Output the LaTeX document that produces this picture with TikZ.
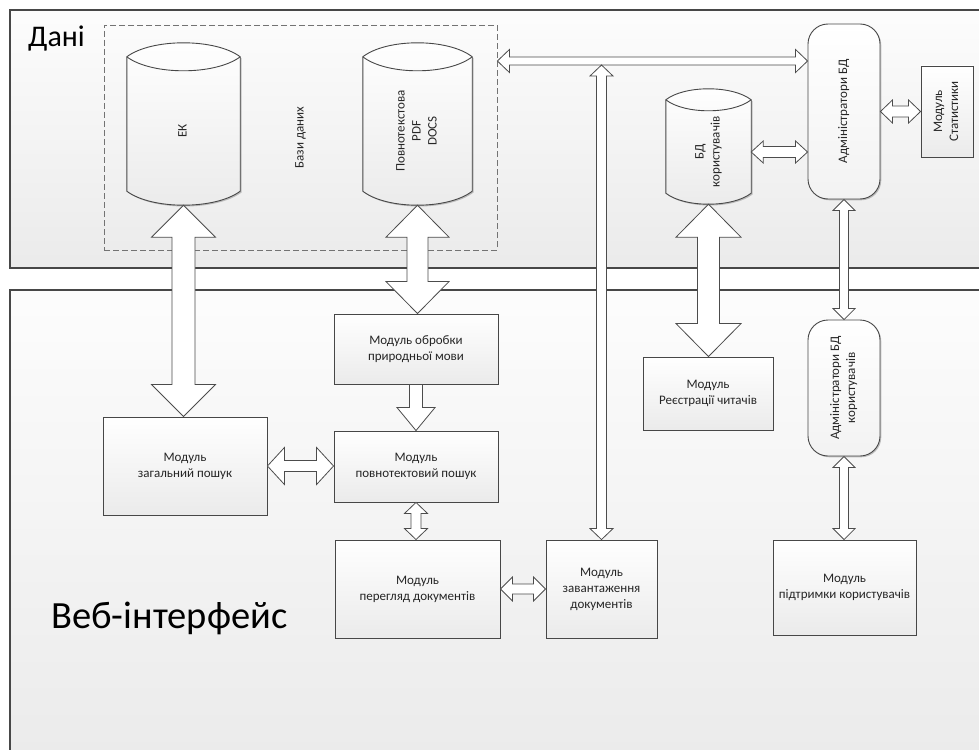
\documentclass[tikz,border=0pt]{standalone}
\usepackage{fontspec}
\setmainfont{Carlito}
\usepackage{graphicx}
\usetikzlibrary{calc,shadows}
\pgfdeclarelayer{panels}
\pgfdeclarelayer{shapes}
\pgfsetlayers{panels,shapes,main}

\newcommand\modfont{\fontsize{13}{16}\selectfont}
\newcommand\vtext[1]{\rotatebox{90}{\begin{tabular}{@{}c@{}}#1\end{tabular}}}

% vertical double block arrow: #1 upper end, #2 lower end, #3 half shaft, #4 half head, #5 head length
\newcommand\vdbl[5]{\draw[blockarrow] let \p1=#1, \p2=#2 in
  (\x1,\y1) -- (\x1+#4,\y1-#5) -- (\x1+#3,\y1-#5) -- (\x1+#3,\y2+#5) -- (\x1+#4,\y2+#5)
  -- (\x1,\y2) -- (\x1-#4,\y2+#5) -- (\x1-#3,\y2+#5) -- (\x1-#3,\y1-#5) -- (\x1-#4,\y1-#5) -- cycle;}
% vertical single block arrow pointing down
\newcommand\vone[5]{\draw[blockarrow] let \p1=#1, \p2=#2 in
  (\x1-#3,\y1) -- (\x1+#3,\y1) -- (\x1+#3,\y2+#5) -- (\x1+#4,\y2+#5) -- (\x1,\y2)
  -- (\x1-#4,\y2+#5) -- (\x1-#3,\y2+#5) -- cycle;}
% horizontal double block arrow: #1 left end, #2 right end
\newcommand\hdbl[5]{\draw[blockarrow] let \p1=#1, \p2=#2 in
  (\x1,\y1) -- (\x1+#5,\y1+#4) -- (\x1+#5,\y1+#3) -- (\x2-#5,\y1+#3) -- (\x2-#5,\y1+#4)
  -- (\x2,\y1) -- (\x2-#5,\y1-#4) -- (\x2-#5,\y1-#3) -- (\x1+#5,\y1-#3) -- (\x1+#5,\y1-#4) -- cycle;}
% database drum around a text node: #1 node, #2 depth of the end curves (pt)
\newcommand\drum[2]{\begin{pgfonlayer}{shapes}
  \draw[drumbody] let \p1=(#1.north west), \p2=(#1.south east),
      \n1={#2*1.333pt}, \n2={0.22*(\x2-\x1)} in
    (\x1,\y1) -- (\x1,\y2+#2pt)
    .. controls (\x1+\n2,\y2+#2pt-\n1) and (\x2-\n2,\y2+#2pt-\n1) .. (\x2,\y2+#2pt)
    -- (\x2,\y1)
    .. controls (\x2-\n2,\y1+\n1) and (\x1+\n2,\y1+\n1) .. (\x1,\y1) -- cycle;
  \draw[drumrim] let \p1=(#1.north west), \p2=(#1.south east),
      \n1={#2*1.333pt}, \n2={0.22*(\x2-\x1)} in
    (\x1,\y1) .. controls (\x1+\n2,\y1-\n1) and (\x2-\n2,\y1-\n1) .. (\x2,\y1);
\end{pgfonlayer}}

\tikzset{
  sz/.style 2 args={minimum width=#1pt, minimum height=#2pt},
  panel/.style={draw=black!72, line width=1.1pt, top color=black!1, bottom color=black!8},
  softshadow/.style={drop shadow={shadow xshift=1.3pt, shadow yshift=-1.3pt, opacity=0.22, fill=black}},
  module/.style={draw=black!72, line width=0.9pt, top color=white, bottom color=black!8,
    softshadow, inner sep=0pt, align=center, font=\modfont, text=black!85},
  admbox/.style={module, rounded corners=20pt, bottom color=black!5},
  dbgroup/.style={draw=black!55, dash pattern=on 6pt off 3pt, line width=0.8pt,
    inner sep=0pt, font=\modfont, text=black!85},
  drumtext/.style={inner sep=0pt, font=\modfont, text=black!85},
  drumbody/.style={draw=black!72, line width=0.9pt, top color=white, bottom color=black!8, softshadow},
  drumrim/.style={draw=black!72, line width=0.9pt},
  blockarrow/.style={draw=black!70, line width=0.8pt, fill=white, line join=miter},
  paneltitle/.style={inner sep=0pt, anchor=base west, text=black},
}

\begin{document}
\begin{tikzpicture}[x=1pt, y=-1pt]
\useasboundingbox (0,0) rectangle (979,749);

% layers of the system
\begin{pgfonlayer}{panels}
  \fill[white] (0,0) rectangle (979,749);
  \draw[panel] (10,10) rectangle (995,268);
  \draw[panel] (10,290) rectangle (995,765);
\end{pgfonlayer}
\node[paneltitle, font=\fontsize{30}{36}\selectfont] (tdata) at (28,47) {Дані};
\node[paneltitle, font=\fontsize{38.5}{46}\selectfont] (tweb) at (51,628) {Веб-інтерфейс};

% databases
\node[dbgroup, sz={393}{225}] (dbs) at (300.5,137.5) {\vtext{Бази даних}};
\node[drumtext, sz={113}{148}] (ek) at (183.5,131) {\vtext{ЕК}};
\node[drumtext, sz={109}{148}] (ft) at (417.5,131) {\vtext{Повнотекстова\\PDF\\DOCS}};
\node[drumtext, sz={85}{104}] (usr) at (708.5,152) {\vtext{БД\\користувачів}};
\drum{ek}{14}
\drum{ft}{14}
\drum{usr}{11}

\node[admbox, sz={72}{175}] (adm) at (844,111.5) {\vtext{Адміністратори БД}};
\node[module, sz={52}{91}] (stat) at (947,111.5) {\vtext{Модуль\\Статистики}};

% web modules
\node[module, sz={164}{70}] (nlp) at (416,349) {Модуль обробки\\природньої мови};
\node[module, sz={164}{98}] (gen) at (185,466) {Модуль\\загальний пошук};
\node[module, sz={164}{71}] (fts) at (416,466.5) {Модуль\\повнотектовий пошук};
\node[module, sz={165}{98}] (view) at (417.5,589) {Модуль\\перегляд документів};
\node[module, sz={111}{98}] (load) at (601.5,589) {Модуль\\завантаження\\документів};
\node[module, sz={130}{73}] (reg) at (708,393.5) {Модуль\\Реєстрації читачів};
\node[admbox, sz={72}{136}] (admu) at (844,388) {\vtext{Адміністратори БД\\користувачів}};
\node[module, sz={143}{95}] (sup) at (844.5,587.5) {Модуль\\підтримки користувачів};

% data bus
\coordinate (busy) at (0,61);
\coordinate (busjoin) at (load.north |- 0,65);

% connectors
\vdbl{(ek.south)}{(gen.north)}{11.5pt}{32pt}{32pt}
\vdbl{(ft.south)}{(nlp.north)}{10.5pt}{31.5pt}{32pt}
\vone{(nlp.south)}{(fts.north)}{6.5pt}{19pt}{23pt}
\hdbl{(gen.east)}{(fts.west)}{5.5pt}{18.5pt}{17pt}
\vdbl{(fts.south)}{(view.north)}{5pt}{11.5pt}{11pt}
\hdbl{(view.east)}{(load.west)}{5pt}{12pt}{12pt}
\hdbl{(dbs.east |- busy)}{(adm.west |- busy)}{4pt}{11.5pt}{12pt}
\vdbl{(busjoin)}{(load.north)}{5pt}{11.5pt}{11pt}
\hdbl{(usr.east)}{(adm.west)}{5.5pt}{11pt}{12pt}
\hdbl{(adm.east)}{(stat.west)}{5.5pt}{11.5pt}{12pt}
\vdbl{(usr.south)}{(reg.north)}{11pt}{32.5pt}{33pt}
\vdbl{(adm.south)}{(admu.north)}{4.5pt}{11pt}{11pt}
\vdbl{(admu.south)}{(sup.north)}{4.5pt}{11pt}{11pt}
\end{tikzpicture}
\end{document}
